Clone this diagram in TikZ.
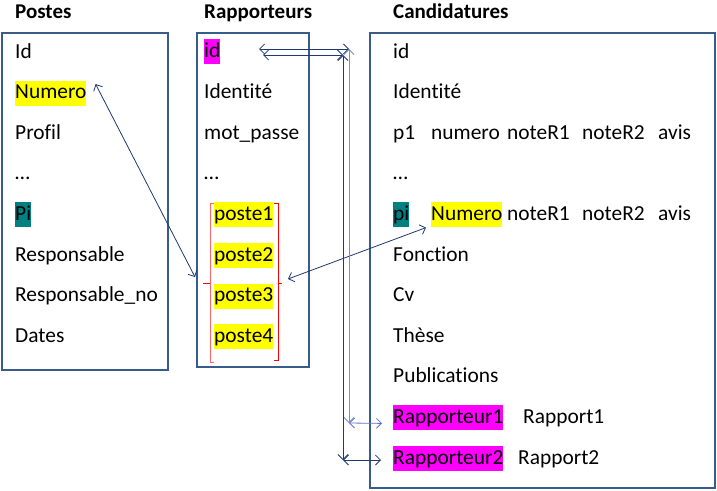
\documentclass[tikz,border=0pt]{standalone}
\usepackage{fontspec}
\setmainfont{Carlito}[Ligatures=NoCommon]
\usepackage{tikz}
\usetikzlibrary{positioning}
\usetikzlibrary{arrows.meta}

\definecolor{boxblue}{RGB}{56,93,138}
\definecolor{navy}{RGB}{31,56,112}
\definecolor{lightlink}{RGB}{120,145,190}
\definecolor{hlyellow}{RGB}{255,255,0}
\definecolor{hlteal}{RGB}{0,128,128}
\definecolor{hlmagenta}{RGB}{255,0,255}

\begin{document}
\begin{tikzpicture}
  [
    x=1pt, y=-1pt,
    every node/.style={font=\fontsize{21.4}{25}\selectfont},
    title/.style={anchor=base west, inner sep=0pt,
      font=\fontsize{21}{25}\selectfont\bfseries},
    field/.style={anchor=base west, inner sep=0pt},
    hl/.style={field, text height=16pt, text depth=5pt, inner ysep=2pt},
    tbl/.style={draw=boxblue, line width=1.6pt},
    ld/.style={draw=navy, line width=0.8pt,
      {Straight Barb[length=5pt,width=10pt]}-{Straight Barb[length=5pt,width=10pt]}},
    bracket/.style={draw=red, line width=0.8pt}
  ]
  \useasboundingbox (0,0) rectangle (717,490);

  \node (tPostes) at (15,18)  [title] {Postes};
  \node (tRapp)   at (204,18) [title] {Rapporteurs};
  \node (tCand)   at (393,18) [title] {Candidatures};

  \draw [tbl] (2,33) rectangle (168,370);
  \draw [tbl] (197,33) rectangle (309,367);
  \draw [tbl] (370,33) rectangle (715,488);

  % Postes
  \node (p1) at (15,58)    [field] {Id};
  \node (p2) at (15,98.6)  [hl, fill=hlyellow] {Numero};
  \node (p3) at (15,139.2) [field] {Profil};
  \node (p4) at (15,179.8) [field] {\dots};
  \node (p5) at (15,220.4) [hl, fill=hlteal] {Pi};
  \node (p6) at (15,261)   [field] {Responsable};
  \node (p7) at (15,301.6) [field] {Responsable\_no};
  \node (p8) at (15,342.2) [field] {Dates};

  % Rapporteurs
  \node (r1) at (204,57)    [hl, fill=hlmagenta] {id};
  \node (r2) at (204,98.6)  [field] {Identité};
  \node (r3) at (204,139.2) [field] {mot\_passe};
  \node (r4) at (204,179.8) [field] {\dots};
  \node (r5) at (214,220.4) [hl, fill=hlyellow] {poste1};
  \node (r6) at (214,261)   [hl, fill=hlyellow] {poste2};
  \node (r7) at (214,301.6) [hl, fill=hlyellow] {poste3};
  \node (r8) at (214,342.2) [hl, fill=hlyellow] {poste4};

  % Candidatures
  \node (c1)  at (393,58)    [field] {id};
  \node (c2)  at (393,98.6)  [field] {Identité};
  \node (c3)  at (393,139.2) [field] {p1};
  \node (c3a) at (431,139.2) [field] {numero};
  \node (c3b) at (507,139.2) [field] {noteR1};
  \node (c3c) at (582,139.2) [field] {noteR2};
  \node (c3d) at (658,139.2) [field] {avis};
  \node (c4)  at (393,179.8) [field] {\dots};
  \node (c5)  at (393,220.4) [hl, fill=hlteal] {pi};
  \node (c5a) at (431,220.4) [hl, fill=hlyellow] {Numero};
  \node (c5b) at (507,220.4) [field] {noteR1};
  \node (c5c) at (582,220.4) [field] {noteR2};
  \node (c5d) at (658,220.4) [field] {avis};
  \node (c6)  at (393,261)   [field] {Fonction};
  \node (c7)  at (393,301.6) [field] {Cv};
  \node (c8)  at (393,342.2) [field] {Thèse};
  \node (c9)  at (393,382.8) [field] {Publications};
  \node (c10) at (393,423.4) [hl, fill=hlmagenta] {Rapporteur1};
  \node (c10a) at (523,423.4) [field] {Rapport1};
  \node (c11) at (393,464)   [hl, fill=hlmagenta] {Rapporteur2};
  \node (c11a) at (518,464)  [field] {Rapport2};

  % crochets autour des postes
  \draw [bracket, red!60] (214,203) -- (210,203) -- (210,362) -- (214,362);
  \draw [bracket] (210,283) -- (203,283);
  \draw [bracket] (274,203) -- (278,203) -- (278,360) -- (274,360);
  \draw [bracket] (278,283) -- (282,283);

  \coordinate (brL) at (195,277);
  \coordinate (brR) at (288,279);
  \coordinate (idA) at (259,49);
  \coordinate (idB) at (263,55);
  \coordinate (kA)  at (349,49);
  \coordinate (kB)  at (343,55);
  \coordinate (rA)  at (349,423);
  \coordinate (rB)  at (343,460);

  \draw [ld] ([shift={(9,-9)}]p2.east) -- (brL);
  \draw [ld] ([xshift=-5pt]c5a.south west) -- (brR);

  \draw [ld] (idA) -- (kA);
  \draw [ld, draw=lightlink] (kA) -- (rA);
  \draw [ld, draw=lightlink!80!blue] (rA) -- ([xshift=-11pt]c10.base west);
  \draw [ld] (idB) -- (kB);
  \draw [ld] (kB) -- (rB);
  \draw [ld] (rB) -- ([shift={(-12,-4)}]c11.base west);
\end{tikzpicture}
\end{document}
